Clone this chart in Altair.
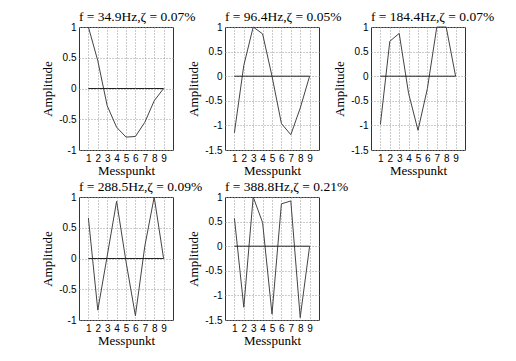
import altair as alt
import pandas as pd

messpunkt = [1, 2, 3, 4, 5, 6, 7, 8, 9]

titles = [
    "f = 34.9Hz,ζ = 0.07%",
    "f = 96.4Hz,ζ = 0.05%",
    "f = 184.4Hz,ζ = 0.07%",
    "f = 288.5Hz,ζ = 0.09%",
    "f = 388.8Hz,ζ = 0.21%",
]

mode1 = [1.0, 0.45, -0.28, -0.63, -0.79, -0.78, -0.55, -0.2, 0.0]
mode2 = [-1.15, 0.22, 1.0, 0.86, 0.0, -0.96, -1.19, -0.65, 0.0]
mode3 = [-0.98, 0.71, 0.87, -0.35, -1.1, -0.25, 1.0, 1.0, 0.0]
mode4 = [0.66, -0.84, 0.04, 0.93, -0.05, -0.93, 0.2, 1.0, 0.0]
mode5 = [0.57, -1.24, 1.0, 0.48, -1.38, 0.86, 0.92, -1.45, 0.0]
zero_line = [0, 0, 0, 0, 0, 0, 0, 0, 0]

modes = [mode1, mode2, mode3, mode4, mode5]
y_domains = [[-1, 1], [-1.5, 1], [-1.5, 1], [-1, 1], [-1.5, 1]]
y_ticks_a = [-1, -0.5, 0, 0.5, 1]
y_ticks_b = [-1.5, -1, -0.5, 0, 0.5, 1]
y_ticks = [y_ticks_a, y_ticks_b, y_ticks_b, y_ticks_a, y_ticks_b]


def panel(title, vals, ydom, yt):
    df = pd.DataFrame({"Messpunkt": messpunkt, "Amplitude": vals, "Null": zero_line})
    base = alt.Chart(df)
    x_axis = alt.Axis(values=messpunkt, title="Messpunkt", labelPadding=3, titlePadding=1,
                      labelOverlap=False, labelFlush=False)
    y_axis = alt.Axis(values=yt, title="Amplitude", labelExpr="'' + datum.value",
                      labelPadding=3, titlePadding=4, labelOverlap=False, labelFlush=False)
    x_scale = alt.Scale(domain=[0, 10], nice=False, zero=False)
    y_scale = alt.Scale(domain=ydom, nice=False, zero=False)
    line = base.mark_line(color="#444444", strokeWidth=1).encode(
        x=alt.X("Messpunkt:Q", scale=x_scale, axis=x_axis),
        y=alt.Y("Amplitude:Q", scale=y_scale, axis=y_axis),
    )
    zero = base.mark_line(color="#222222", strokeWidth=1).encode(
        x=alt.X("Messpunkt:Q", scale=x_scale, axis=x_axis),
        y=alt.Y("Null:Q", scale=y_scale, axis=y_axis),
    )
    return alt.layer(line, zero).properties(
        width=94,
        height=123,
        title=alt.TitleParams(
            title, anchor="start", frame="group", font="Liberation Serif", fontSize=13.5,
            fontWeight="normal", color="#000000", offset=-1,
        ),
    )


panels = [panel(t, m, d, yt) for t, m, d, yt in zip(titles, modes, y_domains, y_ticks)]

chart = alt.concat(*panels, columns=3, spacing={"row": 47, "column": 52}, bounds="flush").properties(
    padding={"left": 33, "top": 1, "right": 5, "bottom": 5},
    background="white",
).configure_view(
    stroke="#333333", strokeWidth=1
).configure_axis(
    domain=False, ticks=False, grid=True, gridDash=[1, 2], gridColor="#999999",
    labelFont="Liberation Sans", labelFontSize=10, labelColor="#000000",
    labelOverlap=False, labelFlush=False, labelBound=False,
    titleFont="Liberation Serif", titleFontSize=13, titleFontWeight="normal", titleColor="#000000",
)

chart.save("out.html", embed_options={"renderer": "svg", "actions": False})
